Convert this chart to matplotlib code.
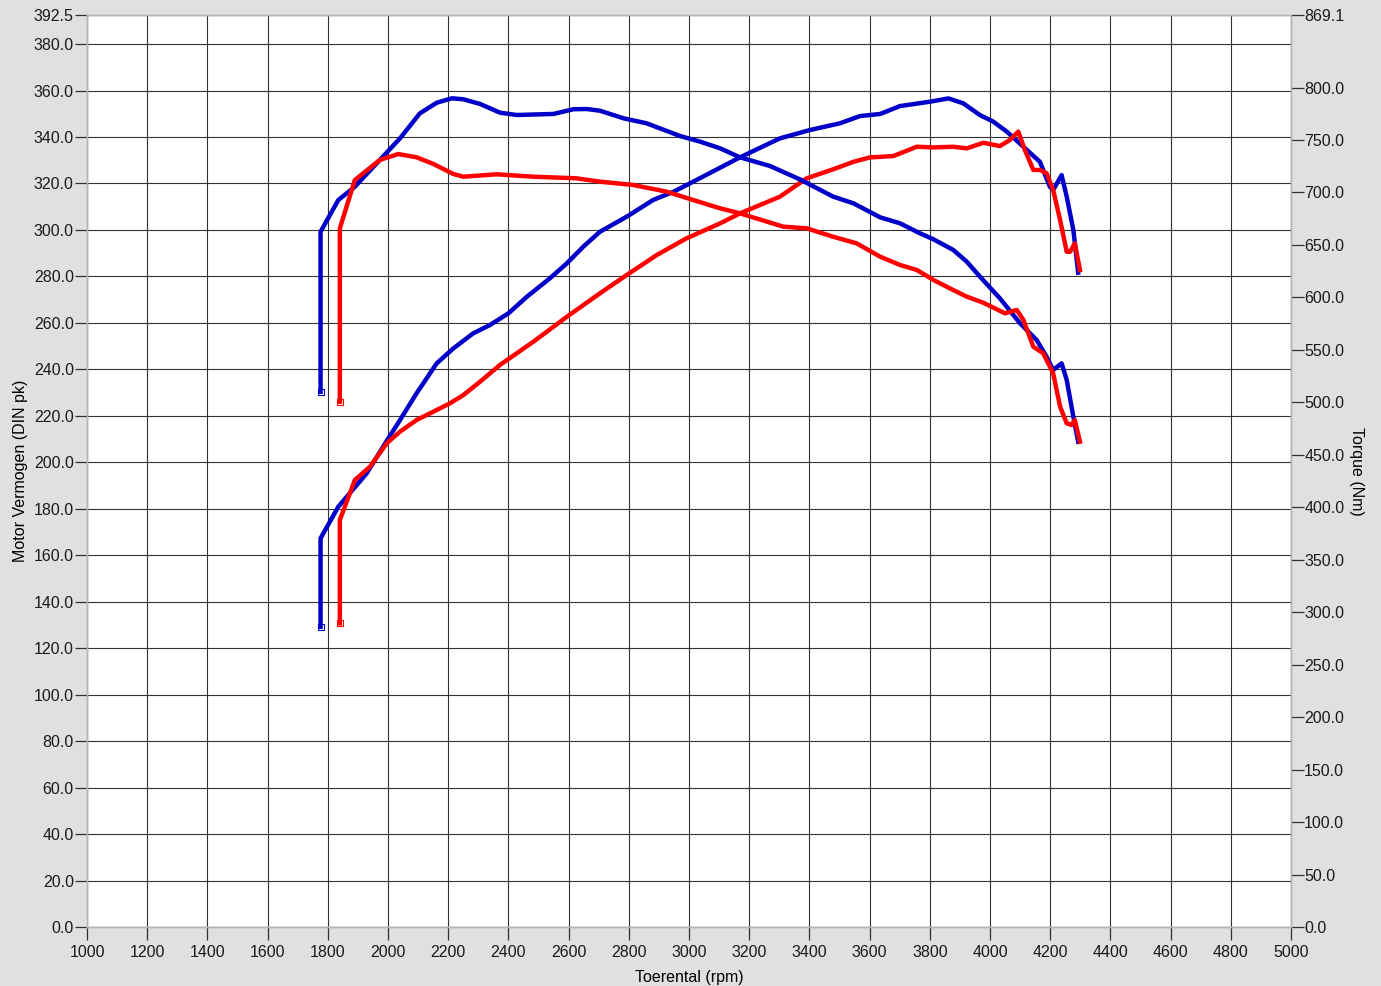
import matplotlib.pyplot as plt

plt.rcParams['font.family'] = ['Liberation Sans', 'DejaVu Sans']

# blue run - power (pk)
b_pwr_rpm = [1776, 1776, 1835, 1929, 2001, 2040, 2095, 2162, 2217, 2283, 2339, 2400, 2461,
             2538, 2594, 2649, 2704, 2793, 2881, 2948, 3025, 3169, 3302, 3402, 3502, 3568,
             3635, 3701, 3801, 3862, 3911, 3967, 4011, 4056, 4111, 4166, 4199, 4210, 4238,
             4255, 4277, 4293]
b_pwr = [129.2, 167.3, 180.9, 195.2, 210.3, 218.2, 229.7, 242.6, 249.0, 255.5, 259.1, 264.1, 271.2,
         279.2, 285.6, 292.8, 299.2, 305.7, 312.9, 316.4, 321.5, 331.2, 339.4, 343.0, 345.9, 349.0,
         349.9, 353.3, 355.2, 356.6, 354.5, 349.4, 346.6, 342.3, 335.8, 329.3, 318.6, 317.2, 323.6,
         314.3, 300.0, 281.6]

# blue run - torque (Nm)
b_trq_rpm = [1776, 1776, 1835, 1890, 1973, 2040, 2106, 2162, 2212, 2250, 2306, 2372, 2428,
             2550, 2616, 2660, 2704, 2782, 2859, 2970, 3037, 3103, 3169, 3269, 3369, 3479,
             3546, 3635, 3701, 3767, 3812, 3878, 3923, 3967, 4033, 4100, 4155, 4188, 4210,
             4238, 4255, 4277, 4293]
b_trq = [510.0, 662.6, 692.8, 705.5, 731.0, 751.6, 775.4, 785.5, 789.7, 788.8, 784.3, 776.0, 773.8,
         774.8, 779.3, 779.5, 777.9, 770.7, 765.9, 753.8, 748.4, 742.1, 733.5, 725.2, 712.4, 696.0,
         689.7, 676.3, 670.6, 661.1, 655.4, 645.2, 634.0, 619.7, 599.1, 575.3, 559.4, 543.5, 530.8,
         537.2, 521.3, 486.3, 462.5]

# red run - power (pk)
r_pwr_rpm = [1840, 1840, 1890, 1940, 1996, 2040, 2095, 2151, 2206, 2250, 2306, 2372, 2483,
             2594, 2704, 2793, 2893, 2992, 3103, 3169, 3302, 3391, 3479, 3546, 3601, 3679,
             3757, 3812, 3878, 3923, 3978, 4033, 4066, 4094, 4116, 4144, 4166, 4188, 4210,
             4233, 4255, 4266, 4282, 4299]
r_pwr = [130.7, 175.2, 192.4, 198.1, 208.2, 213.2, 218.2, 221.8, 225.4, 228.9, 234.7, 241.9, 251.9,
         262.6, 272.7, 280.6, 289.2, 296.4, 302.8, 307.1, 314.3, 322.2, 326.1, 329.3, 331.2, 331.8,
         335.8, 335.5, 335.8, 335.1, 337.5, 336.1, 338.7, 342.3, 334.4, 325.8, 325.8, 324.4, 317.2,
         304.3, 290.6, 290.6, 294.2, 282.7]

# red run - torque (Nm)
r_trq_rpm = [1840, 1840, 1890, 1973, 2034, 2095, 2151, 2217, 2250, 2361, 2483, 2625, 2704,
             2815, 2926, 3014, 3103, 3169, 3313, 3391, 3479, 3557, 3635, 3701, 3757, 3812,
             3878, 3923, 3978, 4050, 4089, 4111, 4144, 4177, 4210, 4233, 4255, 4271, 4282, 4299]
r_trq = [500.6, 665.8, 711.9, 731.0, 736.6, 733.5, 727.1, 717.6, 715.0, 717.3, 715.0, 713.5, 710.3,
         707.1, 700.7, 692.8, 684.9, 680.1, 667.4, 665.8, 657.8, 651.5, 638.8, 630.9, 626.1, 616.6,
         607.0, 600.7, 594.9, 584.8, 588.0, 578.5, 553.0, 546.7, 527.7, 495.8, 480.0, 478.4, 483.2,
         462.5]

pk_ticks = [i * 20.0 for i in range(20)] + [392.5]
nm_ticks = [i * 50.0 for i in range(17)] + [869.1]
rpm_ticks = list(range(1000, 5001, 200))

BLUE = '#0000c8'
RED = '#ff0000'
BG = '#e0e0e0'

fig = plt.figure(figsize=(13.81, 9.86), dpi=100, facecolor=BG)
ax = fig.add_axes([0.063, 0.0598, 0.8718, 0.925])
ax.set_facecolor('white')
ax2 = ax.twinx()

ax.set_xlim(1000, 5000)
ax.set_ylim(0, 392.5)
ax2.set_ylim(0, 869.1)

ax.set_xticks(rpm_ticks)
ax.set_yticks(pk_ticks)
ax.set_yticklabels(['%.1f' % t for t in pk_ticks])
ax2.set_yticks(nm_ticks)
ax2.set_yticklabels(['%.1f' % t for t in nm_ticks])

ax.grid(True, color='#333333', linewidth=0.8)
ax.set_axisbelow(True)

for a in (ax, ax2):
    for s in a.spines.values():
        s.set_color('#b4b4b4')
        s.set_linewidth(1.0)
    a.tick_params(direction='out', length=9, width=0.9, color='#303030',
                  labelsize=11.5, labelcolor='#1a1a1a', pad=0.5)
ax.tick_params(axis='x', pad=4)

mk = dict(marker='s', markersize=4, markerfacecolor='none', markevery=[0], markeredgewidth=0.8)
ax.plot(b_pwr_rpm, b_pwr, color=BLUE, linewidth=3.2, solid_joinstyle='round', markeredgecolor=BLUE, **mk)
ax2.plot(b_trq_rpm, b_trq, color=BLUE, linewidth=3.2, solid_joinstyle='round', markeredgecolor=BLUE, **mk)
ax.plot(r_pwr_rpm, r_pwr, color=RED, linewidth=3.2, solid_joinstyle='round', markeredgecolor=RED, zorder=3, **mk)
ax2.plot(r_trq_rpm, r_trq, color=RED, linewidth=3.2, solid_joinstyle='round', markeredgecolor=RED, zorder=3, **mk)

ax.set_xlabel('Toerental (rpm)', fontsize=11.5, labelpad=7)
ax.set_ylabel('Motor Vermogen (DIN pk)', fontsize=11.5, labelpad=4)
ax2.set_ylabel('Torque (Nm)', fontsize=11.5, rotation=-90, labelpad=14)

fig.savefig('out.png', dpi=100, facecolor=BG)
